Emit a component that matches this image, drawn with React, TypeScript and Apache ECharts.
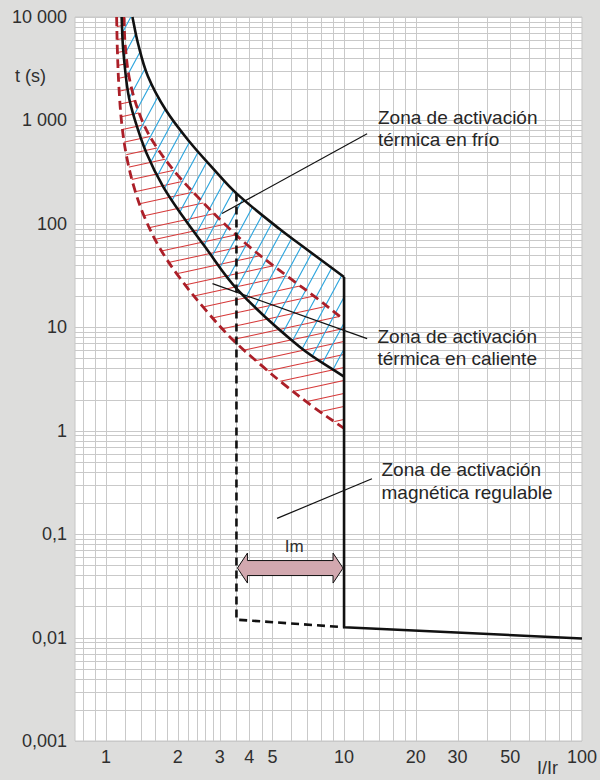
import React, { useEffect, useRef } from 'react';
import * as echarts from 'echarts';

// ---- axes ----
const X_MIN = 0.74;
const X_MAX = 100;
const Y_MIN = 0.001;
const Y_MAX = 10000;
const xTickValues = [1, 2, 3, 4, 5, 10, 20, 30, 50, 100];
const xTickLabels = ['1', '2', '3', '4', '5', '10', '20', '30', '50', '100'];
const yTickValues = [10000, 1000, 100, 10, 1, 0.1, 0.01, 0.001];
const yTickLabels = ['10 000', '1 000', '100', '10', '1', '0,1', '0,01', '0,001'];
const xGridValues = [0.8, 0.9, 1, 1.2, 1.4, 1.6, 1.8, 2, 2.2, 2.4, 2.6, 2.8, 3, 3.5, 4, 4.5, 5, 6, 7, 8, 9, 10, 12, 14, 16, 18, 20, 30, 40, 50, 60, 70, 80, 90];
const yGridMultipliers = [1, 2, 3, 4, 5, 6, 7, 8, 9];
const yGridDecades = [0.001, 0.01, 0.1, 1, 10, 100, 1000];

// ---- curves: [I/Ir, t (s)] ----
const coldUpper = [[1.29, 10000], [1.36, 5610], [1.497, 2689], [1.782, 1261], [2.246, 618], [2.805, 346], [3.53, 197], [5.36, 89], [6.5, 63.8], [10, 30.6]];
const coldLower = [[1.162, 10000], [1.18, 4797], [1.238, 1829], [1.321, 1010], [1.479, 481], [1.736, 229], [2.106, 117], [2.572, 62.5], [3.582, 22.9], [6.5, 6.49], [10, 3.33]];
const hotUpper = [[1.188, 10000], [1.205, 5129], [1.264, 2301], [1.413, 1010], [1.618, 566], [1.982, 303], [2.523, 166], [3.18, 97.5], [4.01, 59.8], [5.9, 30], [7.66, 19.2], [10, 11.8]];
const hotLower = [[1.107, 10000], [1.115, 4797], [1.132, 2105], [1.165, 903], [1.223, 433], [1.321, 212], [1.455, 114], [1.681, 58.4], [2.04, 30], [2.64, 14.4], [3.413, 7.54], [4.56, 4.16], [5.53, 2.87], [7.39, 1.71], [10, 1.055]];
const magneticFixed = [[10, 30.6], [10, 0.0126], [100, 0.0098]];
const magneticAdjustable = [[3.53, 197], [3.53, 0.0149], [10, 0.0126]];

// ---- annotations ----
const leaderCold = [[3.07, 126], [12.5, 745]];
const leaderHot = [[2.8, 26.4], [12.5, 7.76]];
const leaderMag = [[5.23, 0.142], [13.1, 0.343]];
const imArrow = [3.53, 10, 0.047]; // from, to, at t
const textCold = 'Zona de activación\ntérmica en frío';
const textHot = 'Zona de activación\ntérmica en caliente';
const textMag = 'Zona de activación\nmagnética regulable';

const FONT = '"Liberation Sans", Arial, sans-serif';

function bez(P: number[][], s = 0.36): string {
  let d = '';
  const n = P.length;
  const dist = (a: number[], b: number[]) => Math.hypot(a[0] - b[0], a[1] - b[1]);
  const tan = (i: number) => {
    const a = P[Math.max(i - 1, 0)];
    const b = P[Math.min(i + 1, n - 1)];
    return [b[0] - a[0], b[1] - a[1]];
  };
  const lenSum = (i: number) => dist(P[Math.max(i - 1, 0)], P[i]) + dist(P[i], P[Math.min(i + 1, n - 1)]);
  for (let i = 0; i < n - 1; i++) {
    const L = dist(P[i], P[i + 1]);
    const t0 = tan(i);
    const t1 = tan(i + 1);
    const r0 = (s * L) / (lenSum(i) || 1);
    const r1 = (s * L) / (lenSum(i + 1) || 1);
    const c1 = [P[i][0] + t0[0] * r0, P[i][1] + t0[1] * r0];
    const c2 = [P[i + 1][0] - t1[0] * r1, P[i + 1][1] - t1[1] * r1];
    d += ` C${c1[0]},${c1[1]} ${c2[0]},${c2[1]} ${P[i + 1][0]},${P[i + 1][1]}`;
  }
  return d;
}

function makeHatch(w: number, h: number, color: string, lw: number, steep: boolean) {
  const c = document.createElement('canvas');
  c.width = w;
  c.height = h;
  const g = c.getContext('2d')!;
  g.strokeStyle = color;
  g.lineWidth = lw;
  g.beginPath();
  for (let k = -1; k <= 1; k++) {
    if (steep) {
      g.moveTo(k * w - w, 2 * h);
      g.lineTo(k * w + 2 * w, -h);
    } else {
      g.moveTo(-w, 2 * h + k * h);
      g.lineTo(2 * w, -h + k * h);
    }
  }
  g.stroke();
  return { image: c, repeat: 'repeat', imageWidth: w, imageHeight: h };
}

const fmt = (vals: number[], labels: string[]) => (v: number) => {
  const i = vals.findIndex((t) => Math.abs(Math.log10(t) - Math.log10(v)) < 1e-6);
  return i >= 0 ? labels[i] : '';
};

export default function App() {
  const ref = useRef<HTMLDivElement>(null);
  useEffect(() => {
    if (!ref.current) return;
    const chart = echarts.init(ref.current, null, { renderer: 'svg' });
    const bluePattern = makeHatch(14, 26, '#2ea6de', 1.1, true);
    const redPattern = makeHatch(60, 13, '#d63a3a', 1.1, false);

    const yGridValues: number[] = [];
    yGridDecades.forEach((d) => yGridMultipliers.forEach((m) => yGridValues.push(m * d)));
    yGridValues.push(Y_MAX);

    const curve = (pts: number[][], style: any, z: number) => ({
      type: 'custom',
      coordinateSystem: 'cartesian2d',
      silent: true,
      z,
      data: [pts[0]],
      renderItem: (_p: any, api: any) => {
        const P = pts.map((p) => api.coord(p));
        return {
          type: 'path',
          shape: { pathData: `M${P[0][0]},${P[0][1]}` + bez(P) },
          style: { fill: 'none', ...style },
        };
      },
    });

    const zone = (upper: number[][], lower: number[][], pattern: any, z: number) => ({
      type: 'custom',
      coordinateSystem: 'cartesian2d',
      silent: true,
      z,
      data: [upper[0]],
      renderItem: (_p: any, api: any) => {
        const A = upper.map((p) => api.coord(p));
        const B = lower.slice().reverse().map((p) => api.coord(p));
        const d = `M${A[0][0]},${A[0][1]}` + bez(A) + ` L${B[0][0]},${B[0][1]}` + bez(B) + ' Z';
        return { type: 'path', shape: { pathData: d }, style: { fill: pattern, stroke: 'none' } };
      },
    });

    const polyline = (pts: number[][], color: string, width: number, type: any, z: number) => ({
      type: 'line',
      data: pts,
      symbol: 'none',
      silent: true,
      z,
      lineStyle: { color, width, type },
    });

    const option: any = {
      animation: false,
      backgroundColor: '#dddddc',
      grid: {
        left: 75,
        right: 17,
        top: 17,
        bottom: 39,
        show: true,
        backgroundColor: '#ffffff',
        borderColor: '#c6c6c6',
        borderWidth: 1,
      },
      xAxis: {
        type: 'log',
        logBase: 10,
        min: X_MIN,
        max: X_MAX,
        axisLine: { show: false },
        axisTick: { show: false },
        splitLine: { show: false },
        axisLabel: {
          customValues: xTickValues,
          formatter: fmt(xTickValues, xTickLabels),
          color: '#2f2f2f',
          fontSize: 18,
          fontFamily: FONT,
          margin: 7,
        },
      },
      yAxis: {
        type: 'log',
        logBase: 10,
        min: Y_MIN,
        max: Y_MAX,
        axisLine: { show: false },
        axisTick: { show: false },
        splitLine: { show: false },
        axisLabel: {
          customValues: yTickValues,
          formatter: fmt(yTickValues, yTickLabels),
          color: '#2f2f2f',
          fontSize: 18,
          fontFamily: FONT,
          margin: 8,
        },
      },
      series: [
        {
          type: 'custom',
          coordinateSystem: 'cartesian2d',
          silent: true,
          z: 1,
          data: xGridValues.map((v) => [v, Y_MIN]),
          renderItem: (_p: any, api: any) => {
            const v = api.value(0);
            const a = api.coord([v, Y_MAX]);
            const b = api.coord([v, Y_MIN]);
            const x = Math.round(a[0]) + 0.5;
            return { type: 'line', shape: { x1: x, y1: a[1], x2: x, y2: b[1] }, style: { stroke: '#c9c9c9', lineWidth: 1 } };
          },
        },
        {
          type: 'custom',
          coordinateSystem: 'cartesian2d',
          silent: true,
          z: 1,
          data: yGridValues.map((v) => [X_MIN, v]),
          renderItem: (_p: any, api: any) => {
            const v = api.value(1);
            const a = api.coord([X_MIN, v]);
            const b = api.coord([X_MAX, v]);
            const y = Math.round(a[1]) + 0.5;
            return { type: 'line', shape: { x1: a[0], y1: y, x2: b[0], y2: y }, style: { stroke: '#c9c9c9', lineWidth: 1 } };
          },
        },
        zone(hotUpper, hotLower, redPattern, 2),
        zone(coldUpper, coldLower, bluePattern, 3),
        curve(hotUpper, { stroke: '#ab1f28', lineWidth: 2.8, lineDash: [9, 5] }, 4),
        curve(hotLower, { stroke: '#ab1f28', lineWidth: 2.8, lineDash: [9, 5] }, 4),
        curve(coldUpper, { stroke: '#111111', lineWidth: 2.6 }, 5),
        curve(coldLower, { stroke: '#111111', lineWidth: 2.6 }, 5),
        polyline(magneticFixed, '#111111', 2.6, 'solid', 5),
        polyline(magneticAdjustable, '#111111', 2.6, [8, 5], 5),
        polyline(leaderCold, '#111111', 1.2, 'solid', 6),
        polyline(leaderHot, '#111111', 1.2, 'solid', 6),
        polyline(leaderMag, '#111111', 1.2, 'solid', 6),
        {
          type: 'custom',
          coordinateSystem: 'cartesian2d',
          silent: true,
          z: 7,
          data: [[imArrow[0], imArrow[2]]],
          renderItem: (_p: any, api: any) => {
            const a = api.coord([imArrow[0], imArrow[2]]);
            const b = api.coord([imArrow[1], imArrow[2]]);
            const x1 = a[0] + 1;
            const x2 = b[0] - 1;
            const y = a[1];
            const hl = 10;
            const hh = 15;
            const bh = 7.5;
            return {
              type: 'group',
              children: [
                {
                  type: 'polygon',
                  shape: {
                    points: [
                      [x1, y], [x1 + hl, y - hh], [x1 + hl, y - bh], [x2 - hl, y - bh], [x2 - hl, y - hh],
                      [x2, y], [x2 - hl, y + hh], [x2 - hl, y + bh], [x1 + hl, y + bh], [x1 + hl, y + hh],
                    ],
                  },
                  style: { fill: '#d2a8af', stroke: '#111111', lineWidth: 1 },
                },
                {
                  type: 'text',
                  x: (x1 + x2) / 2 + 4,
                  y: y - 22,
                  style: { text: 'Im', fill: '#2f2f2f', font: `17px ${FONT}`, align: 'center', verticalAlign: 'middle' },
                },
              ],
            };
          },
        },
      ],
      graphic: [
        { type: 'text', x: 15, y: 76, style: { text: 't (s)', fill: '#2f2f2f', font: `18px ${FONT}`, verticalAlign: 'middle' } },
        { type: 'text', x: 537, y: 759, style: { text: 'I/Ir', fill: '#2f2f2f', font: `18px ${FONT}`, verticalAlign: 'top' } },
        { type: 'text', x: 378, y: 106.3, z: 10, style: { text: textCold, fill: '#262626', font: `19px ${FONT}`, lineHeight: 22.3, verticalAlign: 'top' } },
        { type: 'text', x: 377.5, y: 325.5, z: 10, style: { text: textHot, fill: '#262626', font: `19px ${FONT}`, lineHeight: 22.3, verticalAlign: 'top' } },
        { type: 'text', x: 381.5, y: 458.8, z: 10, style: { text: textMag, fill: '#262626', font: `19px ${FONT}`, lineHeight: 22.3, verticalAlign: 'top' } },
      ],
    };
    chart.setOption(option);
    return () => chart.dispose();
  }, []);
  return <div ref={ref} style={{ position: 'fixed', left: 0, top: 0, width: 600, height: 780 }} />;
}
